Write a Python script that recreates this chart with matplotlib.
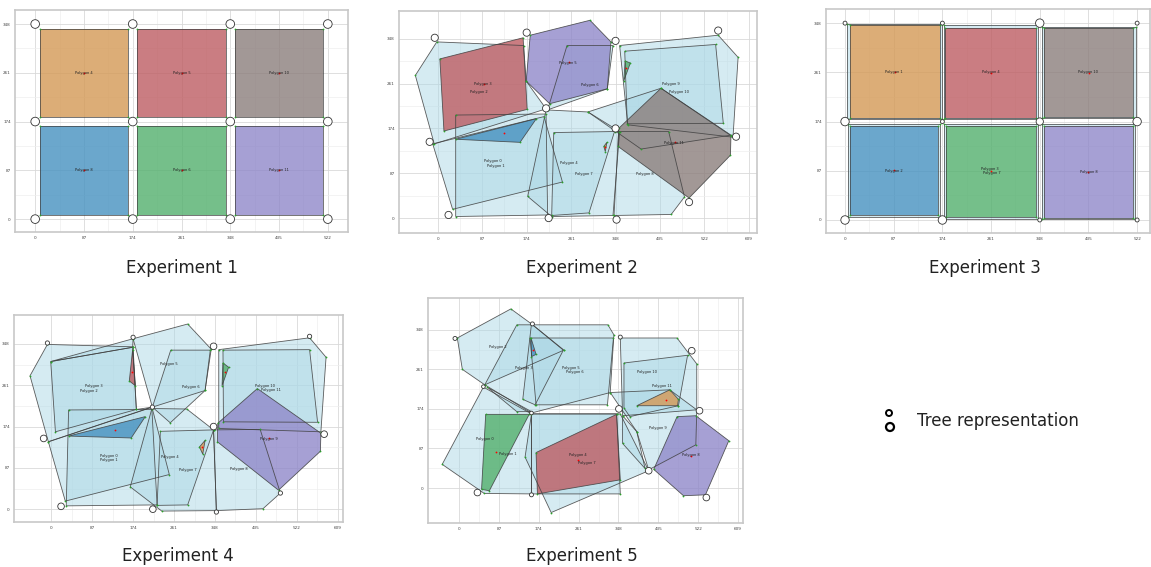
import numpy as np
import matplotlib.pyplot as plt
from matplotlib.patches import Polygon, Circle

# ---- Experiment 1: regular 3x2 grid -------------------------------------
trees1 = [(0, 348), (174, 348), (348, 348), (522, 348),
          (0, 174), (174, 174), (348, 174), (522, 174),
          (0, 0), (174, 0), (348, 0), (522, 0)]
tree_r1 = [7.7] * 12
regions1 = []
fills1 = [
    [(8, 182), (166, 182), (166, 339), (8, 339)],
    [(182, 182), (340, 182), (340, 339), (182, 339)],
    [(356, 182), (514, 182), (514, 339), (356, 339)],
    [(8, 8), (166, 8), (166, 166), (8, 166)],
    [(182, 8), (340, 8), (340, 166), (182, 166)],
    [(356, 8), (514, 8), (514, 166), (356, 166)],
]
fill_colors1 = ['orange', 'red', 'brown', 'blue', 'green', 'purple']
labels1 = ['Polygon 4', 'Polygon 5', 'Polygon 10', 'Polygon 8', 'Polygon 6', 'Polygon 11']
label_xy1 = [(87, 261), (261, 261), (435, 261), (87, 87), (261, 87), (435, 87)]

# ---- Experiment 2 ---------------------------------------------------------
trees2 = [(-6, 350), (174, 360), (348, 344), (549, 364), (-16, 148), (212, 213),
          (348, 174), (584, 158), (21, 6), (217, 0), (350, -3), (492, 31)]
tree_r2 = [7] * 12
regions2 = [
    [(35, 200), (212, 202), (215, 6), (35, 3)],
    [(-10, 144), (208, 197), (244, 70), (29, 17)],
    [(-2, 342), (168, 335), (173, 266), (212, 212), (-7, 144), (-44, 277)],
    [(176, 42), (212, 210), (294, 206), (356, 168), (343, 5), (223, 3)],
    [(253, 335), (343, 335), (332, 251), (215, 210)],
    [(227, 166), (346, 168), (296, 10), (223, 5)],
    [(354, 168), (452, 168), (483, 41), (457, 7), (345, 5)],
    [(366, 324), (544, 337), (559, 184), (371, 183)],
    [(356, 335), (549, 355), (588, 312), (578, 157), (372, 181)],
    [(294, 206), (398, 134), (574, 161), (437, 252)],
]
fills2 = [
    [(4, 309), (167, 350), (175, 211), (12, 169)],
    [(181, 355), (298, 384), (339, 342), (332, 251), (219, 222), (173, 266)],
    [(35, 153), (193, 193), (161, 147)],
    [(367, 305), (377, 301), (364, 266)],
    [(325, 139), (331, 147), (328, 129)],
    [(437, 252), (574, 160), (573, 122), (492, 39), (353, 139), (354, 174)],
]
fill_colors2 = ['red', 'purple', 'blue', 'green', 'orange', 'brown']
labels2 = ['Polygon 0', 'Polygon 1', 'Polygon 2', 'Polygon 3', 'Polygon 4', 'Polygon 5',
           'Polygon 6', 'Polygon 7', 'Polygon 8', 'Polygon 9', 'Polygon 10', 'Polygon 11']
label_xy2 = [(108, 111), (114, 102), (80, 245), (89, 260), (256, 107), (255, 302),
             (298, 259), (285, 86), (405, 86), (457, 260), (472, 245), (463, 146)]

# ---- Experiment 3: grid with slack around each cell -----------------------
trees3 = trees1
tree_r3 = [3.5, 3.5, 7.5, 3.5, 7.5, 3.5, 6.5, 7.5, 7.5, 7.5, 3.5, 3.5]
regions3 = [
    [(3, 178), (173, 178), (173, 347), (3, 347)],
    [(176, 179), (344, 179), (344, 344), (176, 344)],
    [(352, 180), (520, 180), (520, 342), (352, 342)],
    [(5, 5), (170, 5), (170, 170), (5, 170)],
    [(176, 2), (345, 2), (345, 170), (176, 170)],
    [(352, 1), (518, 1), (518, 170), (352, 170)],
]
fills3 = [
    [(8, 181), (170, 181), (170, 344), (8, 344)],
    [(178, 181), (342, 181), (342, 339), (178, 339)],
    [(356, 182), (515, 182), (515, 339), (356, 339)],
    [(8, 8), (166, 8), (166, 167), (8, 167)],
    [(181, 5), (342, 5), (342, 167), (181, 167)],
    [(355, 4), (515, 4), (515, 167), (355, 167)],
]
fill_colors3 = fill_colors1
labels3 = ['Polygon 1', 'Polygon 4', 'Polygon 10', 'Polygon 2', 'Polygon 3', 'Polygon 7', 'Polygon 8']
label_xy3 = [(87, 262), (260, 262), (435, 262), (87, 87), (258, 91), (262, 83), (435, 85)]

# ---- Experiment 4 ---------------------------------------------------------
trees4 = [(-8, 350), (174, 362), (345, 343), (549, 364), (-16, 149), (215, 215),
          (345, 174), (580, 158), (21, 6), (216, 0), (351, -6), (487, 34)]
tree_r4 = [4.5, 4.5, 7, 4.5, 7, 4.5, 7, 7, 7, 7, 4.5, 4.5]
regions4 = [
    [(-8, 347), (174, 342), (181, 210), (215, 215), (-6, 142), (-45, 281)],
    [(-1, 311), (173, 341), (181, 210), (9, 163)],
    [(37, 209), (214, 210), (225, 9), (32, 7)],
    [(-6, 142), (214, 215), (251, 73), (30, 17)],
    [(168, 47), (214, 212), (288, 211), (345, 167), (351, -3), (235, -4)],
    [(232, 164), (345, 167), (290, 9), (225, 8)],
    [(345, 167), (444, 168), (487, 34), (450, 1), (351, -3)],
    [(365, 335), (549, 336), (566, 183), (366, 184)],
    [(356, 336), (549, 361), (584, 320), (573, 163), (356, 170)],
    [(174, 359), (290, 390), (340, 337), (327, 250), (253, 182), (215, 215)],
    [(254, 335), (338, 335), (327, 250), (215, 215)],
    [(-1, 311), (174, 359), (173, 341)],
]
fills4 = [
    [(173, 336), (166, 270), (179, 260)],
    [(365, 308), (377, 299), (363, 260)],
    [(37, 154), (200, 195), (170, 150)],
    [(315, 131), (327, 145), (322, 116)],
    [(438, 254), (573, 160), (572, 122), (483, 40), (353, 142), (354, 181)],
]
fill_colors4 = ['red', 'green', 'blue', 'orange', 'purple']
labels4 = ['Polygon 3', 'Polygon 2', 'Polygon 5', 'Polygon 6', 'Polygon 0', 'Polygon 1',
           'Polygon 4', 'Polygon 7', 'Polygon 8', 'Polygon 10', 'Polygon 11', 'Polygon 9']
label_xy4 = [(90, 260), (81, 248), (251, 305), (297, 258), (122, 113), (123, 104),
             (253, 110), (290, 82), (399, 84), (455, 260), (467, 250), (462, 147)]

# ---- Experiment 5 ---------------------------------------------------------
trees5 = [(-9, 329), (160, 361), (352, 332), (508, 302), (53, 223), (158, 165),
          (349, 174), (525, 170), (40, -10), (158, -15), (414, 38), (540, -21)]
tree_r5 = [4.4, 4.4, 4.4, 7.3, 4, 4, 7.3, 7.3, 7.3, 4.4, 7.3, 7.3]
regions5 = [
    [(-4, 330), (113, 394), (158, 361), (228, 303), (56, 227), (7, 261)],
    [(56, 227), (126, 359), (325, 359), (338, 337), (330, 210), (158, 165)],
    [(155, 330), (337, 330), (324, 183), (168, 183)],
    [(139, 195), (158, 361), (228, 304), (166, 183)],
    [(53, 222), (158, 163), (158, -13), (55, -12), (-37, 52)],
    [(61, 222), (158, 168), (126, 168)],
    [(158, 163), (352, 163), (414, 38), (201, -54), (144, 68)],
    [(158, 163), (344, 163), (352, -13), (158, -13)],
    [(360, 275), (499, 292), (479, 181), (373, 157), (360, 176)],
    [(352, 330), (476, 330), (519, 273), (519, 172), (357, 159)],
    [(330, 210), (460, 216), (519, 172), (517, 95), (414, 40), (388, 124)],
    [(357, 98), (357, 159), (388, 124), (406, 43)],
]
fills5 = [
    [(157, 330), (168, 294), (158, 289)],
    [(58, 162), (153, 162), (66, -6), (49, -3)],
    [(168, 78), (344, 162), (352, 18), (171, -13)],
    [(388, 181), (460, 216), (479, 195), (477, 181)],
    [(476, 157), (517, 159), (589, 104), (538, -15), (490, -17), (425, 41)],
]
fill_colors5 = ['blue', 'green', 'red', 'orange', 'purple']
labels5 = ['Polygon 2', 'Polygon 3', 'Polygon 5', 'Polygon 6', 'Polygon 0', 'Polygon 1',
           'Polygon 4', 'Polygon 7', 'Polygon 10', 'Polygon 11', 'Polygon 9', 'Polygon 8']
label_xy5 = [(84, 311), (142, 264), (244, 265), (252, 255), (56, 107), (107, 74),
             (260, 73), (279, 55), (410, 255), (443, 225), (435, 133), (506, 73)]

captions = ['Experiment 1', 'Experiment 2', 'Experiment 3', 'Experiment 4', 'Experiment 5']

PALETTE = {'orange': '#E28526', 'red': '#C43437', 'brown': '#816159',
           'blue': '#257BB4', 'green': '#36A345', 'purple': '#876EC0'}

W, H = 1151, 567
fig = plt.figure(figsize=(W / 100, H / 100), dpi=100)


def axes_at(l, t, r, b):
    return fig.add_axes([l / W, 1 - b / H, (r - l) / W, (b - t) / H])


def draw_layout(ax, regions, fills, colors, trees, radii, labels, label_xy,
                xlim, ylim, xticks, underlay=True):
    for pts in regions:
        ax.add_patch(Polygon(pts, closed=True, fc='lightblue', ec='none', alpha=0.5, zorder=2))
    for pts, c in zip(fills, colors):
        if underlay:
            ax.add_patch(Polygon(pts, closed=True, fc='lightblue', ec='none', alpha=0.5, zorder=3))
        ax.add_patch(Polygon(pts, closed=True, fc=PALETTE[c], ec='none', alpha=0.6, zorder=3))
    for pts in regions + fills:
        ax.add_patch(Polygon(pts, closed=True, fill=False, ec='#404040', lw=0.6,
                             alpha=0.85, zorder=4))
        xs, ys = zip(*pts)
        ax.plot(xs, ys, 'o', color='#2ca02c', ms=1.3, mew=0, zorder=5)
    for pts in fills:
        cx, cy = np.mean(pts, axis=0)
        ax.plot(cx, cy, 'o', color='red', ms=1.3, mew=0, zorder=6)
    for (x, y), r in zip(trees, radii):
        ax.add_patch(Circle((x, y), r, fc='white', ec='#333333', lw=0.6, zorder=7))
    for text, (x, y) in zip(labels, label_xy):
        ax.text(x, y, text, fontsize=2.6, ha='center', va='center', color='#222222', zorder=8)

    ax.set_xlim(*xlim)
    ax.set_ylim(*ylim)
    ax.set_xticks(xticks)
    ax.set_yticks([0, 87, 174, 261, 348])
    ax.set_xticks([t + 43.5 for t in xticks[:-1]], minor=True)
    ax.set_yticks([43.5, 130.5, 217.5, 304.5], minor=True)
    ax.grid(True, which='major', color='#d9d9d9', lw=0.6, zorder=0)
    ax.grid(True, which='minor', color='#eeeeee', lw=0.5, zorder=0)
    ax.set_axisbelow(True)
    ax.tick_params(which='both', length=0, labelsize=3, pad=3, colors='#444444')
    for s in ax.spines.values():
        s.set_color('#c8c8c8')
        s.set_linewidth(1.2)


ticks522 = [0, 87, 174, 261, 348, 435, 522]
ticks609 = ticks522 + [609]

ax1 = axes_at(15, 10, 348, 232)
draw_layout(ax1, regions1, fills1, fill_colors1, trees1, tree_r1, labels1, label_xy1,
            (-36, 558), (-23, 373), ticks522)
ax2 = axes_at(399, 11, 757, 233)
draw_layout(ax2, regions2, fills2, fill_colors2, trees2, tree_r2, labels2, label_xy2,
            (-76, 625), (-29, 402), ticks609)
ax3 = axes_at(826, 9, 1150, 233)
draw_layout(ax3, regions3, fills3, fill_colors3, trees3, tree_r3, labels3, label_xy3,
            (-34, 545), (-23, 373), ticks522, underlay=False)
ax4 = axes_at(14, 315, 343, 522)
draw_layout(ax4, regions4, fills4, fill_colors4, trees4, tree_r4, labels4, label_xy4,
            (-79, 620), (-27, 409), ticks609)
ax5 = axes_at(428, 298, 743, 523)
draw_layout(ax5, regions5, fills5, fill_colors5, trees5, tree_r5, labels5, label_xy5,
            (-68, 620), (-77, 418), ticks609)

# captions and legend drawn in pixel space on a full-figure overlay
ov = fig.add_axes([0, 0, 1, 1], zorder=10)
ov.set_xlim(0, W)
ov.set_ylim(H, 0)
ov.axis('off')
ov.patch.set_alpha(0)
caption_xy = [(182, 268), (582, 268), (985, 268), (178, 556), (582, 556)]
for text, (x, y) in zip(captions, caption_xy):
    ov.text(x, y, text, fontsize=12, ha='center', va='center', color='#222222')

ov.add_patch(Circle((889, 413), 3, fill=False, ec='black', lw=1.4))
ov.add_patch(Circle((890, 427), 4, fill=False, ec='black', lw=1.6))
ov.text(917, 421, 'Tree representation', fontsize=12, ha='left', va='center', color='#222222')

fig.savefig('out.png', dpi=100)
